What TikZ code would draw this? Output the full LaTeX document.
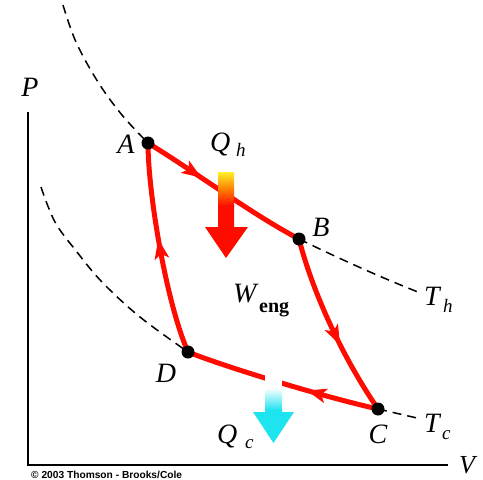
\documentclass[tikz,border=0pt]{standalone}
\usepackage{fontspec}
\setmainfont{Liberation Serif}
\newfontfamily\cpfont{Liberation Sans}
\usetikzlibrary{decorations.markings,arrows.meta}
\definecolor{cyred}{RGB}{255,12,0}
\definecolor{qcyan}{RGB}{30,228,240}
\definecolor{qyellow}{RGB}{255,240,40}
\definecolor{qorange}{RGB}{255,120,0}
\begin{document}
\begin{tikzpicture}[x=1pt,y=-1pt,
  lbl/.style={font=\fontsize{28}{28}\selectfont\itshape, inner sep=0pt},
  sublbl/.style={font=\fontsize{19}{19}\selectfont\itshape, inner sep=0pt},
  iso/.style={dash pattern=on 9pt off 6pt, line width=1.5pt},
  cyc/.style={draw=cyred, line width=5pt, line join=round},
  dot/.style={circle, fill=black, minimum size=13pt, inner sep=0pt},
  midarrow/.style={postaction=decorate, decoration={markings,
     mark=at position #1 with {\fill[cyred] (10pt,0pt) -- (-10pt,7.5pt) -- (-5pt,0pt) -- (-10pt,-7.5pt) -- cycle;}}}
]
\useasboundingbox (0,0) rectangle (483,480);
\fill[white] (0,0) rectangle (483,480);

% state points
\coordinate (a) at (148,143);
\coordinate (b) at (299,239);
\coordinate (c) at (378,409);
\coordinate (d) at (188,352);

% axes
\coordinate (ytop) at (28,112);
\coordinate (orig) at (28,465);
\coordinate (xend) at (448,465);
\draw[line width=1.3pt] (ytop) -- (orig) -- (xend);

% isotherms
\coordinate (h0) at (63,5);
\coordinate (h1) at (418,292);
\coordinate (c0) at (41,187);
\coordinate (c1) at (417,418);
\draw[iso] plot[smooth, tension=0.6] coordinates {(h0) (76,42) (98,82) (122,115) (a)};
\draw[iso] (b) .. controls (340,259) and (380,277) .. (h1);
\draw[iso] plot[smooth, tension=0.6] coordinates {(c0) (55,222) (77,252) (102,282) (140,317) (d)};
\draw[iso] (c) -- (c1);

% cycle
\draw[cyc, midarrow=0.3] (a) .. controls (200,175) and (250,213) .. (b);
\draw[cyc, midarrow=0.55] (b) .. controls (312,290) and (341,355) .. (c);
\draw[cyc, midarrow=0.32] (c) .. controls (328,398) and (228,368) .. (d);
\draw[cyc, midarrow=0.5] (d) .. controls (166,302) and (148,192) .. (a);

% Q_h arrow
\shade[top color=qyellow, bottom color=qorange] (218,172) rectangle (234,190);
\shade[top color=qorange, bottom color=cyred] (218,190) rectangle (234,206);
\fill[cyred] (218,205.5) -- (234,205.5) -- (234,227) -- (248,227) -- (226,258) -- (205,227) -- (218,227) -- cycle;

% Q_c arrow
\fill[white] (265,374) rectangle (282,389);
\shade[top color=white, bottom color=qcyan] (265,388) rectangle (282,410);
\fill[qcyan] (265,409.5) -- (282,409.5) -- (282,412) -- (294,412) -- (273.5,443) -- (253,412) -- (265,412) -- cycle;

% dots
\node[dot] (A) at (a) {};
\node[dot] (B) at (b) {};
\node[dot] (C) at (c) {};
\node[dot] (D) at (d) {};

% labels
\node[lbl] (Pl) at (30,87) {P};
\node[lbl, font=\fontsize{26}{26}\selectfont\itshape] (Vl) at (467,465) {V};
\node[lbl] (Al) at (126,144) {A};
\node[lbl] (Bl) at (321,227) {B};
\node[lbl] (Cl) at (378,434) {C};
\node[lbl] (Dl) at (166,373) {D};
\node[lbl, anchor=base west] (Qh) at (210,151) {Q};
\node[sublbl, anchor=base west] (Qhs) at (236,156) {h};
\node[lbl, anchor=base west] (Th) at (424,305) {T};
\node[sublbl, anchor=base west] (Ths) at (443,312) {h};
\node[lbl, anchor=base west] (Qc) at (217,443) {Q};
\node[sublbl, anchor=base west] (Qcs) at (245,448) {c};
\node[lbl, anchor=base west] (Tc) at (424,432) {T};
\node[sublbl, anchor=base west] (Tcs) at (442,439) {c};
\node[lbl, anchor=base west] (W) at (233,302) {W};
\node[font=\fontsize{20}{20}\selectfont\bfseries, inner sep=0pt, anchor=base west] (Wsub) at (259,312) {eng};
\node[font=\cpfont\bfseries\fontsize{10.2}{10.2}\selectfont, inner sep=0pt, anchor=base west] (copy) at (31,478) {© 2003 Thomson - Brooks/Cole};
\end{tikzpicture}
\end{document}
